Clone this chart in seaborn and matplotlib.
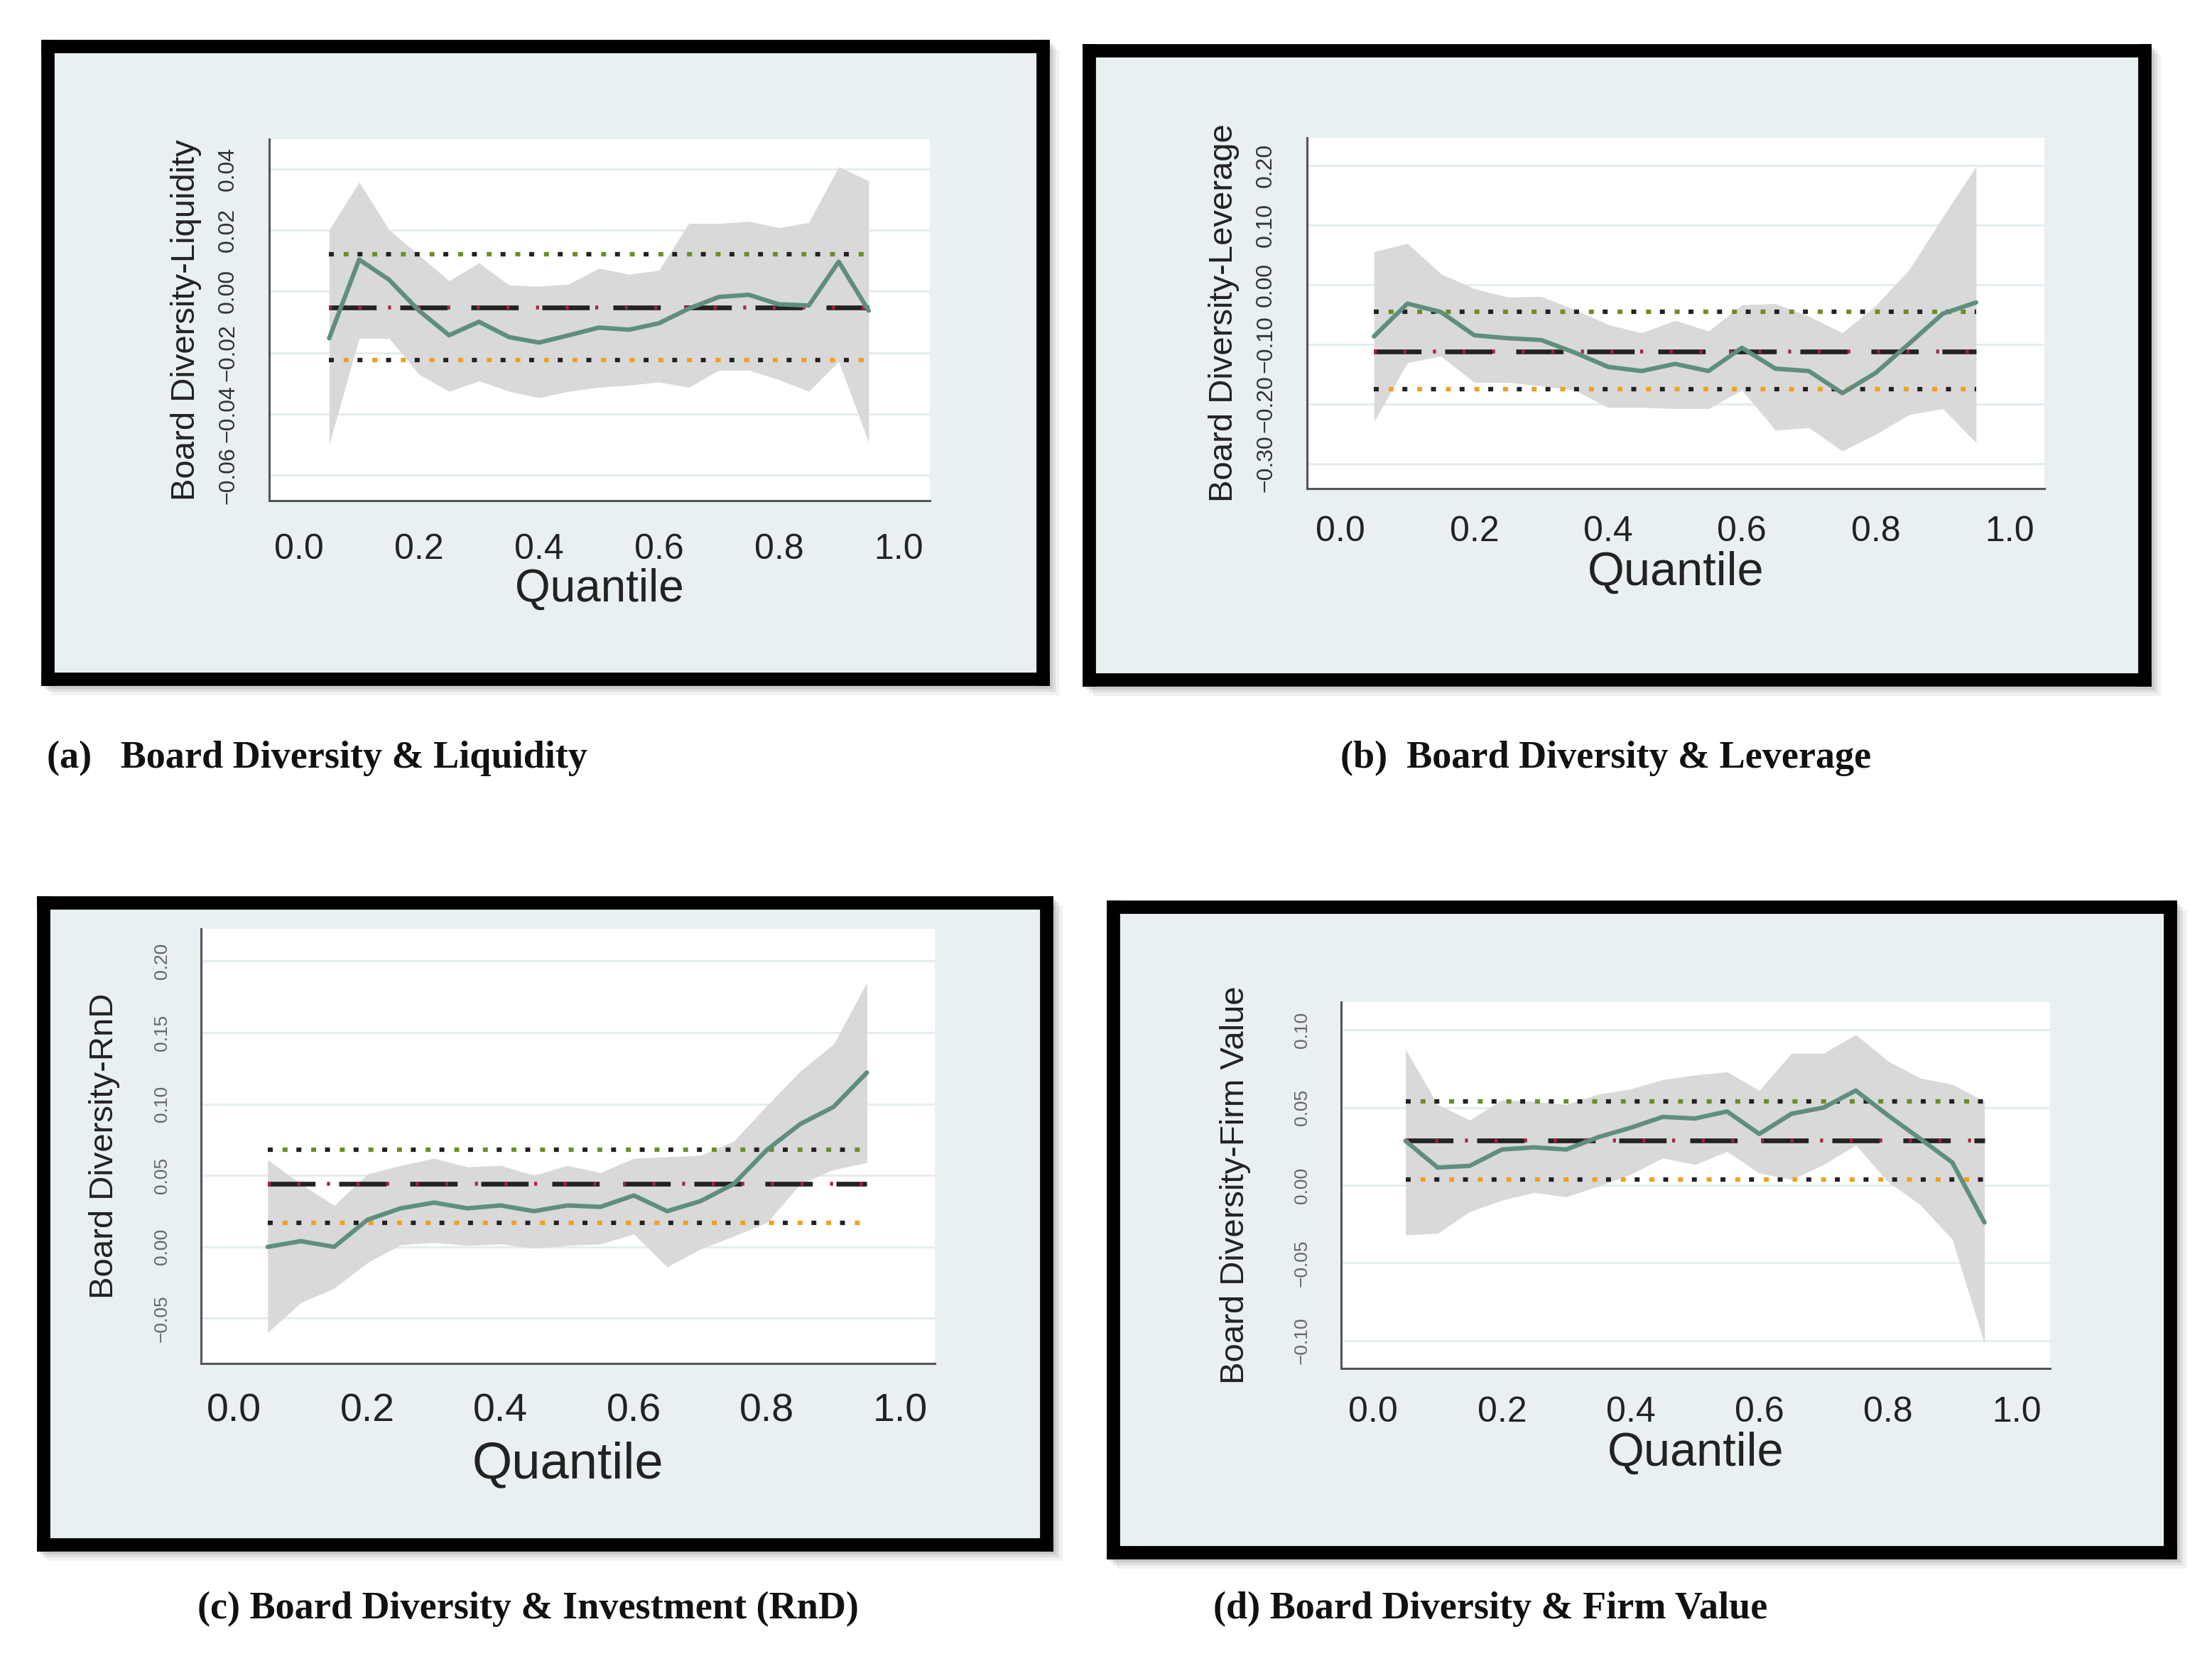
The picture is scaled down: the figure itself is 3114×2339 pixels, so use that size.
import numpy as np
import pandas as pd
import seaborn as sns
import matplotlib.pyplot as plt
from matplotlib.patches import Rectangle

# quantile grid used in every panel
quantiles = [0.05, 0.10, 0.15, 0.20, 0.25, 0.30, 0.35, 0.40, 0.45, 0.50,
             0.55, 0.60, 0.65, 0.70, 0.75, 0.80, 0.85, 0.90, 0.95]

# (a) liquidity
liq_coef = [-0.0153, 0.0104, 0.0038, -0.0063, -0.0143, -0.0099, -0.0149, -0.0167, -0.0143, -0.0118,
            -0.0125, -0.0104, -0.0056, -0.0018, -0.0011, -0.0042, -0.0046, 0.0097, -0.0063]
liq_upper = [0.0201, 0.0357, 0.0201, 0.0118, 0.0035, 0.0093, 0.0021, 0.0017, 0.0024, 0.0076,
             0.0056, 0.0069, 0.0222, 0.0222, 0.0229, 0.0208, 0.0225, 0.0407, 0.0361]
liq_lower = [-0.0500, -0.0153, -0.0153, -0.0271, -0.0326, -0.0292, -0.0326, -0.0347, -0.0326, -0.0313,
             -0.0306, -0.0296, -0.0313, -0.0257, -0.0257, -0.0288, -0.0326, -0.0229, -0.0493]
liq_ols = [0.0121, -0.0053, -0.0225]   # upper ci, estimate, lower ci

# (b) leverage
lev_coef = [-0.087, -0.032, -0.046, -0.085, -0.090, -0.093, -0.114, -0.138, -0.145, -0.133,
            -0.145, -0.106, -0.141, -0.145, -0.182, -0.148, -0.099, -0.049, -0.030]
lev_upper = [0.055, 0.069, 0.018, -0.007, -0.021, -0.020, -0.042, -0.067, -0.081, -0.060,
             -0.078, -0.034, -0.032, -0.053, -0.081, -0.035, 0.025, 0.113, 0.198]
lev_lower = [-0.230, -0.131, -0.120, -0.164, -0.164, -0.170, -0.177, -0.206, -0.206, -0.208,
             -0.208, -0.177, -0.244, -0.240, -0.279, -0.251, -0.218, -0.208, -0.265]
lev_ols = [-0.046, -0.112, -0.175]

# (c) investment (RnD)
rnd_coef = [0.000, 0.004, 0.000, 0.019, 0.027, 0.031, 0.027, 0.029, 0.025, 0.029,
            0.028, 0.036, 0.025, 0.032, 0.044, 0.068, 0.086, 0.098, 0.122]
rnd_upper = [0.061, 0.044, 0.029, 0.051, 0.057, 0.062, 0.056, 0.057, 0.050, 0.057,
             0.052, 0.062, 0.063, 0.064, 0.074, 0.099, 0.123, 0.142, 0.185]
rnd_lower = [-0.060, -0.039, -0.029, -0.011, 0.0015, 0.003, 0.001, 0.002, -0.001, 0.001,
             0.002, 0.009, -0.014, -0.0015, 0.0075, 0.017, 0.044, 0.054, 0.059]
rnd_ols = [0.068, 0.044, 0.017]

# (d) firm value
fv_coef = [0.0286, 0.0114, 0.0125, 0.0230, 0.0244, 0.0230, 0.0310, 0.0370, 0.0440, 0.0430,
           0.0475, 0.0330, 0.0460, 0.0500, 0.0610, 0.0450, 0.0300, 0.0147, -0.0240]
fv_upper = [0.0875, 0.0520, 0.0420, 0.0550, 0.0540, 0.0520, 0.0586, 0.0620, 0.0680, 0.0710,
            0.0730, 0.0610, 0.0850, 0.0850, 0.0970, 0.0800, 0.0690, 0.0650, 0.0540]
fv_lower = [-0.0320, -0.0310, -0.0170, -0.0097, -0.0047, -0.0075, -0.0006, 0.0070, 0.0175, 0.0133,
            0.0217, 0.0078, 0.0036, 0.0133, 0.0258, 0.0022, -0.0125, -0.0350, -0.1020]
fv_ols = [0.054, 0.0286, 0.0036]

x_ticks = [0.0, 0.2, 0.4, 0.6, 0.8, 1.0]

W, H = 3114, 2339

panels = [
    dict(coef=liq_coef, upper=liq_upper, lower=liq_lower, ols=liq_ols,
         ylabel='Board Diversity-Liquidity', yticks=[-0.06, -0.04, -0.02, 0.00, 0.02, 0.04],
         ylim=(-0.0683, 0.0497), frame=(58, 56, 1477, 965), plot=(379, 196, 1309, 705),
         caption='(a)   Board Diversity & Liquidity', cap_xy=(66, 1068),
         ytick_fs=23, xtick_fs=36, xlabel_fs=46, ytick_color='#333333',
         xpad=22, xlabelpad=2, ylabelpad=16),
    dict(coef=lev_coef, upper=lev_upper, lower=lev_lower, ols=lev_ols,
         ylabel='Board Diversity-Leverage', yticks=[-0.30, -0.20, -0.10, 0.00, 0.10, 0.20],
         ylim=(-0.342, 0.246), frame=(1524, 62, 3028, 966), plot=(1840, 194, 2878, 688),
         caption='(b)  Board Diversity & Leverage', cap_xy=(1887, 1068),
         ytick_fs=23, xtick_fs=36, xlabel_fs=48, ytick_color='#333333',
         xpad=16, xlabelpad=3, ylabelpad=16),
    dict(coef=rnd_coef, upper=rnd_upper, lower=rnd_lower, ols=rnd_ols,
         ylabel='Board Diversity-RnD', yticks=[-0.05, 0.00, 0.05, 0.10, 0.15, 0.20],
         ylim=(-0.0816, 0.2226), frame=(52, 1262, 1482, 2184), plot=(283, 1308, 1316, 1920),
         caption='(c) Board Diversity & Investment (RnD)', cap_xy=(278, 2266),
         ytick_fs=19, xtick_fs=40, xlabel_fs=52, ytick_color='#666666',
         xpad=19, xlabelpad=11, ylabelpad=34),
    dict(coef=fv_coef, upper=fv_upper, lower=fv_lower, ols=fv_ols,
         ylabel='Board Diversity-Firm Value', yticks=[-0.10, -0.05, 0.00, 0.05, 0.10],
         ylim=(-0.118, 0.118), frame=(1558, 1268, 3064, 2195), plot=(1888, 1411, 2886, 1927),
         caption='(d) Board Diversity & Firm Value', cap_xy=(1708, 2266),
         ytick_fs=19, xtick_fs=36, xlabel_fs=48, ytick_color='#666666',
         xpad=17, xlabelpad=3, ylabelpad=43),
]


def box(x0, y0, x1, y1):
    return [x0 / W, 1 - y1 / H, (x1 - x0) / W, (y1 - y0) / H]


sns.set_style('white')
plt.rcParams['font.family'] = ['Liberation Sans', 'DejaVu Sans']
plt.rcParams['lines.scale_dashes'] = False

fig = plt.figure(figsize=(W / 100, H / 100), dpi=100)
fig.patch.set_facecolor('white')

green = '#5f8f7c'
band = '#d9d9d9'

for p in panels:
    fx0, fy0, fx1, fy1 = p['frame']
    # soft shadow behind frame
    for k, a in [(14, 0.10), (9, 0.15), (5, 0.2)]:
        fig.patches.append(Rectangle(((fx0 + k) / W, 1 - (fy1 + k) / H),
                                     (fx1 - fx0) / W, (fy1 - fy0) / H,
                                     transform=fig.transFigure, color='#777777',
                                     alpha=a, lw=0, zorder=0))
    fr = fig.add_axes(box(fx0 + 9, fy0 + 9, fx1 - 9, fy1 - 9))
    fr.set_facecolor('#e8f0f2')
    fr.set_xticks([])
    fr.set_yticks([])
    for s in fr.spines.values():
        s.set_linewidth(13.5)
        s.set_color('black')
    fr.set_zorder(1)

    ax = fig.add_axes(box(*p['plot']))
    ax.set_zorder(2)
    ax.set_facecolor('white')
    df = pd.DataFrame({'Quantile': quantiles, 'coef': p['coef'],
                       'upper': p['upper'], 'lower': p['lower']})

    ax.fill_between(df['Quantile'], df['lower'], df['upper'], color=band, lw=0, zorder=2)

    q0, q1 = quantiles[0], quantiles[-1]
    up, mid, lo = p['ols']
    # upper OLS bound: black + green dots
    ax.plot([q0, q1], [up, up], color='#222222', lw=4.5, linestyle=(0, (5, 24)), zorder=3)
    ax.plot([q0, q1], [up, up], color='#6b8e23', lw=4.5, linestyle=(14, (5, 24)), zorder=3)
    # OLS estimate: long black dash + red ticks
    ax.plot([q0, q1], [mid, mid], color='#222222', lw=4.8, linestyle=(0, (48, 24)), zorder=3)
    ax.plot([q0, q1], [mid, mid], color='#a8243a', lw=4.0, linestyle=(0, (3, 27)), zorder=3)
    # lower OLS bound: black + orange dots
    ax.plot([q0, q1], [lo, lo], color='#222222', lw=4.5, linestyle=(0, (5, 24)), zorder=3)
    ax.plot([q0, q1], [lo, lo], color='#f0a020', lw=4.5, linestyle=(14, (5, 24)), zorder=3)

    sns.lineplot(data=df, x='Quantile', y='coef', ax=ax, color=green, lw=4.5, zorder=4)

    ax.set_xlim(-0.05, 1.052)
    ax.set_ylim(*p['ylim'])
    ax.set_xticks(x_ticks)
    ax.set_xticklabels([f'{v:.1f}' for v in x_ticks], fontsize=p['xtick_fs'])
    ax.set_yticks(p['yticks'])
    ax.set_yticklabels([f'{v:.2f}'.replace('-', '\u2212') for v in p['yticks']],
                       fontsize=p['ytick_fs'], rotation=90, va='center', color=p['ytick_color'])
    ax.yaxis.grid(True, color='#e4edf0', lw=2.2, zorder=0)
    ax.xaxis.grid(False)
    ax.set_axisbelow(True)
    for side in ['top', 'right']:
        ax.spines[side].set_visible(False)
    for side in ['left', 'bottom']:
        ax.spines[side].set_color('#555555')
        ax.spines[side].set_linewidth(2.2)
    ax.tick_params(axis='both', length=11, width=2.2, color='#555555', direction='out')
    ax.tick_params(axis='x', pad=p['xpad'], labelcolor='#222222')
    ax.tick_params(axis='y', pad=20)
    ax.set_xlabel('Quantile', fontsize=p['xlabel_fs'], labelpad=p['xlabelpad'], color='#222222')
    ax.set_ylabel(p['ylabel'], fontsize=34, labelpad=p['ylabelpad'], color='#222222')

    fig.text(p['cap_xy'][0] / W, 1 - p['cap_xy'][1] / H, p['caption'],
             family=['Liberation Serif', 'DejaVu Serif'], weight='bold', fontsize=39,
             ha='left', va='center', color='#111111')

fig.savefig('out.png', dpi=100, facecolor='white')
